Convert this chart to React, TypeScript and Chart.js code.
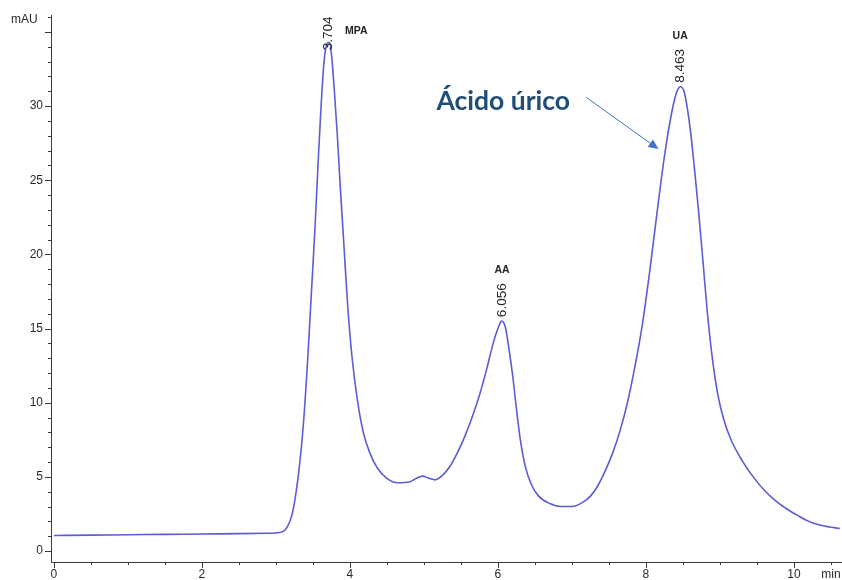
import React, { useEffect, useRef } from "react";
import { Chart, registerables } from "chart.js";
Chart.register(...registerables);

// Retention time (min) and absorbance (mAU)
const timeMin = [
  0, 0.5, 1.0, 1.5, 2.0, 2.5, 2.9, 3.05, 3.15, 3.22, 3.3, 3.37, 3.43, 3.48, 3.53, 3.57, 3.61, 3.65, 3.69, 3.72,
  3.75, 3.79, 3.83, 3.87, 3.92, 3.97, 4.03, 4.1, 4.18, 4.27, 4.37, 4.5, 4.65, 4.8, 4.9, 4.98, 5.07, 5.15, 5.25,
  5.35, 5.45, 5.55, 5.65, 5.75, 5.85, 5.93, 6.0, 6.05, 6.1, 6.15, 6.2, 6.25, 6.3, 6.37, 6.45, 6.55, 6.7, 6.85,
  7.0, 7.15, 7.25, 7.35, 7.45, 7.55, 7.65, 7.75, 7.85, 7.95, 8.05, 8.15, 8.25, 8.35, 8.42, 8.47, 8.52, 8.59,
  8.65, 8.71, 8.77, 8.83, 8.9, 8.97, 9.05, 9.15, 9.3, 9.45, 9.6, 9.75, 9.9, 10.05, 10.2, 10.35, 10.5, 10.62,
];
const absorbance = [
  1.05, 1.07, 1.1, 1.12, 1.15, 1.17, 1.2, 1.25, 1.6, 2.5, 5.0, 8.5, 13, 17.5, 22, 26.2, 30, 33, 34.2, 34.3,
  33.5, 31, 28, 24.5, 20.5, 16.5, 13, 10.2, 8.0, 6.6, 5.6, 4.9, 4.6, 4.65, 4.9, 5.05, 4.9, 4.8, 5.1,
  5.7, 6.6, 7.7, 9.0, 10.5, 12.3, 13.9, 15.0, 15.5, 15.1, 13.6, 11.8, 9.6, 7.6, 5.7, 4.5, 3.7, 3.2, 3.0,
  3.0, 3.3, 3.7, 4.4, 5.4, 6.6, 8.1, 10.0, 12.4, 15.2, 18.8, 22.8, 26.6, 29.6, 31.0, 31.3, 30.9, 28.8,
  26.1, 23, 19.6, 16.1, 12.9, 10.6, 8.9, 7.5, 6.1, 5.0, 4.1, 3.4, 2.85, 2.4, 2.0, 1.75, 1.6, 1.52,
];
const xTickLabels = [0, 2, 4, 6, 8, 10];
const yTickLabels = [0, 5, 10, 15, 20, 25, 30];
const peakNames = ["MPA", "AA", "UA"];
const peakTimes = [3.704, 6.056, 8.463];
const peakLabels = ["3.704", "6.056", "8.463"];
const peakHeights = [34.3, 15.5, 31.3];
const peakLabelOffsets = [-8, 4, 4];
const annotationText = "Ácido úrico";

const FONT = "'Liberation Sans', Arial, sans-serif";

const overlay = {
  id: "chromOverlay",
  afterDraw(chart: any) {
    const ctx = chart.ctx as CanvasRenderingContext2D;
    const xs = chart.scales.x;
    const ys = chart.scales.y;
    const a = chart.chartArea;
    ctx.save();
    ctx.strokeStyle = "#3a3a3a";
    ctx.lineWidth = 1;
    // axis lines
    ctx.beginPath();
    ctx.moveTo(a.left + 0.5, a.top);
    ctx.lineTo(a.left + 0.5, a.bottom + 0.5);
    ctx.lineTo(a.right, a.bottom + 0.5);
    ctx.stroke();
    // y ticks
    ctx.beginPath();
    for (let v = 0; v <= 36; v++) {
      const py = Math.round(ys.getPixelForValue(v)) + 0.5;
      const len = v % 5 === 0 ? 6 : 3;
      ctx.moveTo(a.left - len, py);
      ctx.lineTo(a.left, py);
    }
    // x ticks
    for (let i = 0; i <= 21; i++) {
      const v = i * 0.5;
      const px = Math.round(xs.getPixelForValue(v)) + 0.5;
      const len = i % 4 === 0 ? 6 : 3;
      ctx.moveTo(px, a.bottom);
      ctx.lineTo(px, a.bottom + len);
    }
    ctx.stroke();

    ctx.fillStyle = "#2a2a2a";
    ctx.font = `12px ${FONT}`;
    ctx.textAlign = "right";
    ctx.textBaseline = "middle";
    for (const v of yTickLabels) ctx.fillText(String(v), a.left - 8, ys.getPixelForValue(v));
    ctx.textAlign = "center";
    ctx.textBaseline = "top";
    for (const v of xTickLabels) ctx.fillText(String(v), xs.getPixelForValue(v), a.bottom + 7);
    ctx.fillText("min", xs.getPixelForValue(10.5), a.bottom + 7);
    ctx.textAlign = "left";
    ctx.textBaseline = "middle";
    ctx.fillText("mAU", 11, 20);

    // peak labels
    for (let i = 0; i < peakTimes.length; i++) {
      const px = xs.getPixelForValue(peakTimes[i]);
      const py = ys.getPixelForValue(peakHeights[i]);
      ctx.save();
      ctx.beginPath();
      ctx.rect(0, 12, chart.width, chart.height);
      ctx.clip();
      ctx.translate(px, py - peakLabelOffsets[i]);
      ctx.rotate(-Math.PI / 2);
      ctx.font = `13.5px ${FONT}`;
      ctx.textAlign = "left";
      ctx.textBaseline = "middle";
      ctx.fillStyle = "#222";
      ctx.fillText(peakLabels[i], 0, 0);
      ctx.restore();
      ctx.font = `bold 10.5px ${FONT}`;
      ctx.fillStyle = "#222";
      ctx.textBaseline = "middle";
      if (i === 0) {
        ctx.textAlign = "left";
        ctx.fillText(peakNames[i], px + 17, 31);
      } else {
        ctx.textAlign = "center";
        ctx.fillText(peakNames[i], px, py - 51);
      }
    }

    // annotation
    ctx.font = `bold 26.5px Lato, 'Open Sans', sans-serif`;
    ctx.fillStyle = "#1f4e79";
    ctx.textAlign = "left";
    ctx.textBaseline = "alphabetic";
    ctx.fillText(annotationText, xs.getPixelForValue(5.17), ys.getPixelForValue(29.75));
    const x1 = xs.getPixelForValue(7.19);
    const y1 = ys.getPixelForValue(30.6);
    const x2 = xs.getPixelForValue(8.17);
    const y2 = ys.getPixelForValue(27.1);
    const ang = Math.atan2(y2 - y1, x2 - x1);
    ctx.strokeStyle = "#4472c4";
    ctx.fillStyle = "#4472c4";
    ctx.lineWidth = 1;
    ctx.beginPath();
    ctx.moveTo(x1, y1);
    ctx.lineTo(x2 - 8 * Math.cos(ang), y2 - 8 * Math.sin(ang));
    ctx.stroke();
    ctx.beginPath();
    ctx.moveTo(x2, y2);
    ctx.lineTo(x2 - 10 * Math.cos(ang) + 4.5 * Math.sin(ang), y2 - 10 * Math.sin(ang) - 4.5 * Math.cos(ang));
    ctx.lineTo(x2 - 10 * Math.cos(ang) - 4.5 * Math.sin(ang), y2 - 10 * Math.sin(ang) + 4.5 * Math.cos(ang));
    ctx.closePath();
    ctx.fill();
    ctx.restore();
  },
};

export default function App() {
  const ref = useRef<HTMLCanvasElement | null>(null);
  useEffect(() => {
    if (!ref.current) return;
    const chart = new Chart(ref.current, {
      type: "line",
      data: {
        datasets: [
          {
            data: timeMin.map((t, i) => ({ x: t, y: absorbance[i] })),
            borderColor: "rgb(92,92,214)",
            borderWidth: 1.6,
            pointRadius: 0,
            fill: false,
            cubicInterpolationMode: "monotone",
          },
        ],
      },
      options: {
        responsive: false,
        animation: false,
        devicePixelRatio: 1,
        layout: { padding: { left: 51, top: 15, right: 0, bottom: 18 } },
        plugins: { legend: { display: false }, tooltip: { enabled: false } },
        scales: {
          x: { type: "linear", min: -0.04, max: 10.65, display: false },
          y: { type: "linear", min: -0.74, max: 36.14, display: false },
        },
      },
      plugins: [overlay],
    });
    return () => chart.destroy();
  }, []);
  return (
    <div style={{ position: "absolute", left: 0, top: 0, width: 842, height: 580, background: "#fff" }}>
      <canvas ref={ref} width={842} height={580} />
    </div>
  );
}
